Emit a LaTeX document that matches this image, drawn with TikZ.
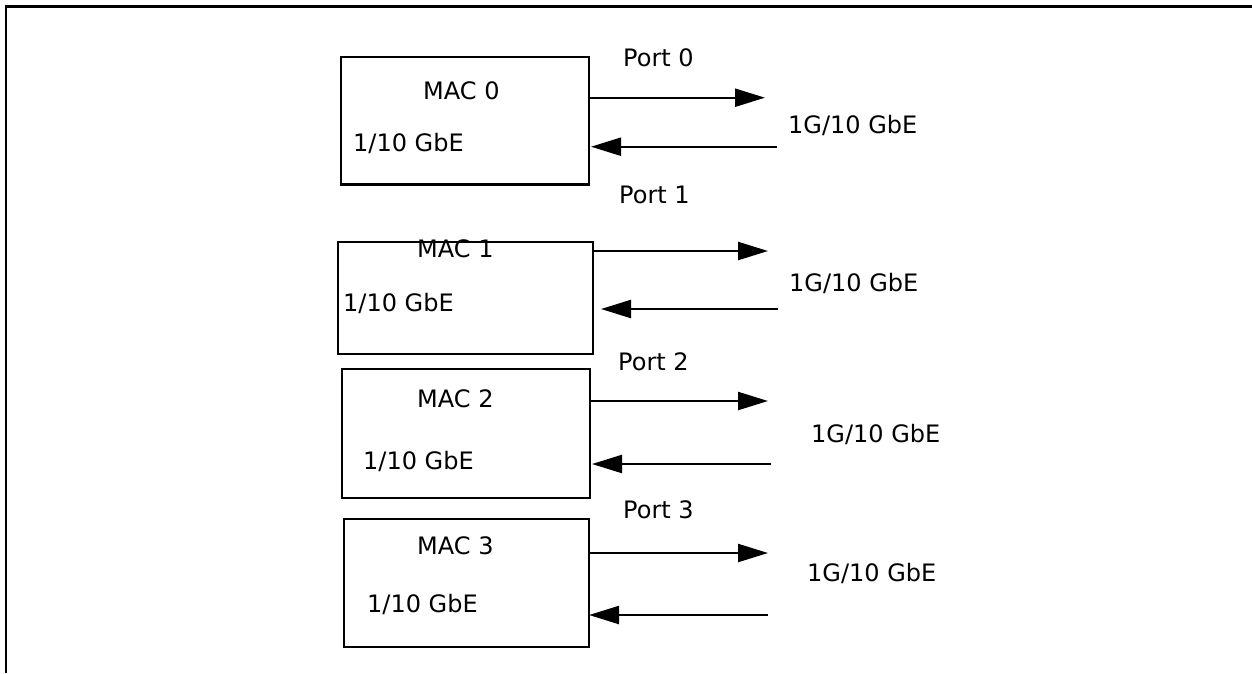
\documentclass[tikz,border=0pt]{standalone}
\usepackage{fontspec}
\setmainfont{DejaVu Sans}
\usetikzlibrary{arrows.meta}
\begin{document}
\begin{tikzpicture}[x=1pt,y=-1pt,
  macbox/.style={draw,line width=2.3pt,inner sep=0pt,anchor=north west},
  lbl/.style={inner sep=0pt,anchor=base west,font=\fontsize{24}{28}\selectfont},
  conn/.style={line width=2.3pt,-{Triangle[length=30pt,width=18pt]}}]
\useasboundingbox (0,0) rectangle (1252,673);
% outer frame
\draw[line width=2.6pt] (6,673) -- (6,6.5) -- (1252,6.5);
% boxes
\node[macbox,minimum width=247.5pt,minimum height=127.5pt] (b0) at (340,55.7) {};
\node[macbox,minimum width=255pt,minimum height=112pt] (b1) at (337,241) {};
\node[macbox,minimum width=248pt,minimum height=129pt] (b2) at (341,368) {};
\node[macbox,minimum width=245pt,minimum height=128pt] (b3) at (343,518) {};
% box texts
\node[lbl] (m0) at (423,99.3) {MAC 0};
\node[lbl] (g0) at (353,151) {1/10 GbE};
\node[lbl] (m1) at (417,257) {MAC 1};
\node[lbl] (g1) at (343,311) {1/10 GbE};
\node[lbl] (m2) at (417,407) {MAC 2};
\node[lbl] (g2) at (363,469) {1/10 GbE};
\node[lbl] (m3) at (417,554) {MAC 3};
\node[lbl] (g3) at (367,612) {1/10 GbE};
% port labels
\node[lbl] (p0) at (623,66) {Port 0};
\node[lbl] (p1) at (619,203) {Port 1};
\node[lbl] (p2) at (618,370) {Port 2};
\node[lbl] (p3) at (623,518) {Port 3};
% link labels
\node[lbl] (l0) at (788,133) {1G/10 GbE};
\node[lbl] (l1) at (789,291) {1G/10 GbE};
\node[lbl] (l2) at (811,442) {1G/10 GbE};
\node[lbl] (l3) at (807,581) {1G/10 GbE};
% arrow end coordinates
\coordinate (o0) at (765,97.7);
\coordinate (i0s) at (777,146.7);
\coordinate (i0e) at (591,146.7);
\coordinate (o1) at (768,251);
\coordinate (i1s) at (778,309);
\coordinate (i1e) at (601,309);
\coordinate (o2) at (768,401);
\coordinate (i2s) at (771,464);
\coordinate (i2e) at (592,464);
\coordinate (o3) at (768,553);
\coordinate (i3s) at (768,615);
\coordinate (i3e) at (589,615);
% connectors
\draw[conn] (b0.east |- o0) -- (o0);
\draw[conn] (i0s) -- (i0e);
\draw[conn] (b1.east |- o1) -- (o1);
\draw[conn] (i1s) -- (i1e);
\draw[conn] (b2.east |- o2) -- (o2);
\draw[conn] (i2s) -- (i2e);
\draw[conn] (b3.east |- o3) -- (o3);
\draw[conn] (i3s) -- (i3e);
\end{tikzpicture}
\end{document}
